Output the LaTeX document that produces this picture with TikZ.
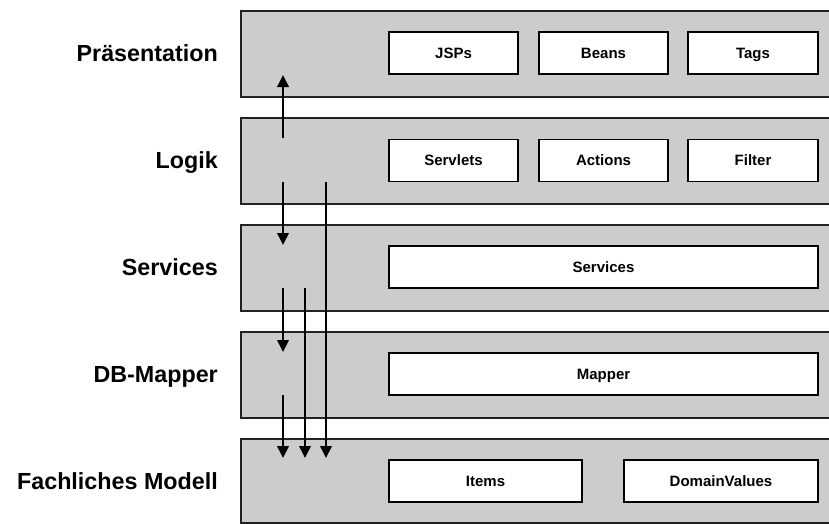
\documentclass[tikz,border=0pt]{standalone}
\usepackage{fontspec}
\setmainfont{Liberation Sans}
\usetikzlibrary{arrows.meta}
\definecolor{bandgray}{HTML}{CCCCCC}
\definecolor{bandline}{HTML}{222222}
\begin{document}
\begin{tikzpicture}[x=1pt,y=-1pt,
  band/.style={draw=bandline,fill=bandgray,line width=1.6pt,minimum width=620pt,minimum height=86pt,inner sep=0pt,anchor=north west},
  comp/.style={draw=black,fill=white,line width=1.8pt,minimum height=42pt,inner sep=0pt,
    font=\fontsize{15}{18}\selectfont\bfseries,text height=10.7pt,text depth=0pt},
  layerlabel/.style={anchor=base east,font=\fontsize{23.3}{28}\selectfont\bfseries,inner sep=0pt},
  flow/.style={line width=1.9pt,-{Triangle[length=12pt,width=11.5pt]}}]
\useasboundingbox (0,0) rectangle (829,523);
\clip (0,0) rectangle (829,523);
% bands
\node[band] (b1) at (240,10) {};
\node[band] (b2) at (240,117) {};
\node[band] (b3) at (240,224) {};
\node[band] (b4) at (240,331) {};
\node[band,minimum height=84pt] (b5) at (240,438) {};
% labels
\node[layerlabel] (l1) at (218,61) {Präsentation};
\node[layerlabel] (l2) at (218,168) {Logik};
\node[layerlabel] (l3) at (218,275) {Services};
\node[layerlabel] (l4) at (218,382) {DB-Mapper};
\node[layerlabel] (l5) at (218,489) {Fachliches Modell};
% components
\node[comp,minimum width=129pt] (jsp) at (453.5,53) {JSPs};
\node[comp,minimum width=129pt] (beans) at (603.5,53) {Beans};
\node[comp,minimum width=130pt] (tags) at (753,53) {Tags};
\node[comp,minimum width=129pt] (servlets) at (453.5,160.5) {Servlets};
\node[comp,minimum width=129pt] (actions) at (603.5,160.5) {Actions};
\node[comp,minimum width=130pt] (filter) at (753,160.5) {Filter};
\node[comp,minimum width=429pt] (services) at (603.5,267) {Services};
\node[comp,minimum width=429pt] (mapper) at (603.5,374) {Mapper};
\node[comp,minimum width=193pt] (items) at (485.5,481) {Items};
\node[comp,minimum width=194pt] (domain) at (721,481) {DomainValues};
% arrow ends
\coordinate (upS) at (283,138);
\coordinate (upE) at (283,75);
\coordinate (a1S) at (283,182);
\coordinate (a1E) at (283,245);
\coordinate (a3S) at (326,182);
\coordinate (a3E) at (326,458);
\coordinate (b1S) at (283,288);
\coordinate (b1E) at (283,352);
\coordinate (b2S) at (305,288);
\coordinate (b2E) at (305,458);
\coordinate (c1S) at (283,395);
\coordinate (c1E) at (283,458);
\draw[flow] (upS) -- (upE);
\draw[flow] (a1S) -- (a1E);
\draw[flow] (a3S) -- (a3E);
\draw[flow] (b1S) -- (b1E);
\draw[flow] (b2S) -- (b2E);
\draw[flow] (c1S) -- (c1E);
\end{tikzpicture}
\end{document}
